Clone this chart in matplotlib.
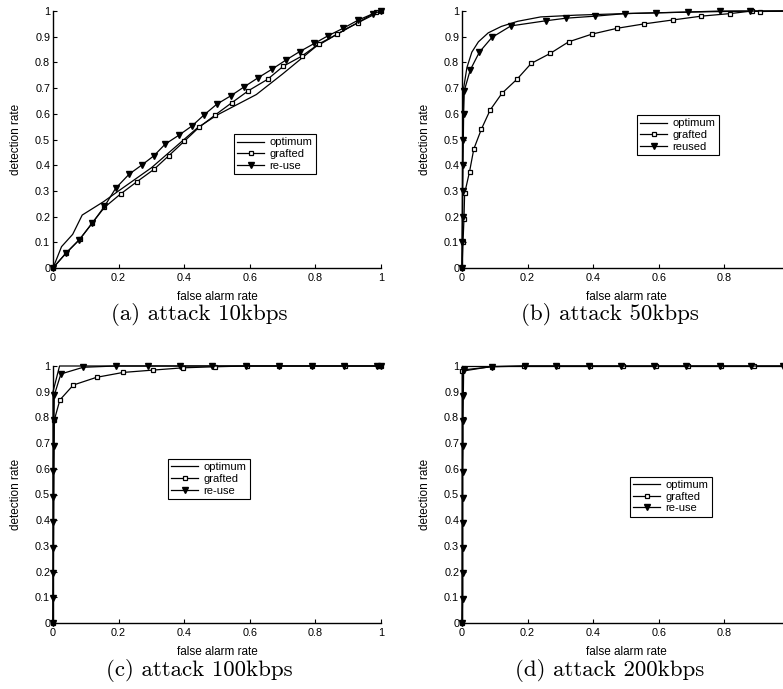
import matplotlib
matplotlib.use('Agg')
import matplotlib.pyplot as plt

plt.rcParams['font.family'] = ['Liberation Sans', 'DejaVu Sans']

# panel (a) attack 10kbps
a_opt_x = [0, 0.026, 0.06, 0.089, 0.154, 0.2, 0.3, 0.44, 0.5, 0.62, 0.7, 0.8, 0.9, 1]
a_opt_y = [0, 0.083, 0.131, 0.206, 0.258, 0.30, 0.39, 0.545, 0.595, 0.675, 0.755, 0.86, 0.935, 1]
a_graft_x = [0, 0.039, 0.082, 0.12, 0.157, 0.206, 0.255, 0.308, 0.353, 0.40, 0.445, 0.494,
             0.545, 0.596, 0.654, 0.702, 0.758, 0.812, 0.867, 0.93, 0.985, 1]
a_graft_y = [0, 0.057, 0.112, 0.176, 0.236, 0.288, 0.335, 0.384, 0.437, 0.493, 0.547, 0.595,
             0.643, 0.69, 0.734, 0.785, 0.824, 0.873, 0.91, 0.955, 0.997, 1]
a_reuse_x = [0, 0.039, 0.08, 0.12, 0.157, 0.191, 0.232, 0.27, 0.308, 0.342, 0.383, 0.424, 0.46,
             0.499, 0.542, 0.583, 0.625, 0.667, 0.71, 0.752, 0.797, 0.839, 0.885, 0.931, 0.977, 1]
a_reuse_y = [0, 0.057, 0.11, 0.175, 0.24, 0.31, 0.365, 0.40, 0.437, 0.482, 0.516, 0.553, 0.595,
             0.637, 0.67, 0.705, 0.74, 0.773, 0.809, 0.842, 0.874, 0.904, 0.933, 0.965, 0.99, 1]

# panel (b) attack 50kbps
b_opt_x = [0, 0.002, 0.005, 0.015, 0.03, 0.05, 0.08, 0.12, 0.17, 0.24, 0.35, 0.5, 0.7, 0.85, 1]
b_opt_y = [0, 0.5, 0.7, 0.78, 0.84, 0.88, 0.915, 0.94, 0.96, 0.977, 0.984, 0.99, 0.996, 0.999, 1]
b_graft_x = [0, 0.003, 0.006, 0.008, 0.023, 0.036, 0.059, 0.086, 0.122, 0.168, 0.211, 0.269,
             0.325, 0.396, 0.474, 0.556, 0.642, 0.73, 0.818, 0.884, 0.91, 1]
b_graft_y = [0, 0.1, 0.19, 0.29, 0.375, 0.463, 0.54, 0.615, 0.68, 0.735, 0.796, 0.835,
             0.88, 0.91, 0.933, 0.95, 0.965, 0.98, 0.99, 1.0, 0.998, 1.0]
b_reuse_x = [0, 0.001, 0.002, 0.002, 0.003, 0.004, 0.005, 0.007, 0.025, 0.053, 0.091, 0.149,
             0.256, 0.317, 0.407, 0.498, 0.592, 0.689, 0.788, 0.879, 1]
b_reuse_y = [0, 0.1, 0.2, 0.3, 0.4, 0.5, 0.6, 0.69, 0.77, 0.84, 0.897, 0.942,
             0.962, 0.972, 0.98, 0.99, 0.993, 0.996, 1.0, 1.0, 1.0]

# panel (c) attack 100kbps
c_opt_x = [0, 0, 0.02, 1]
c_opt_y = [0, 0.9, 1.0, 1.0]
c_graft_x = [0, 0.004, 0.021, 0.062, 0.133, 0.214, 0.304, 0.397, 0.494, 0.59, 0.69, 0.79, 0.89, 0.99, 1]
c_graft_y = [0, 0.79, 0.868, 0.926, 0.956, 0.975, 0.984, 0.993, 0.997, 1, 1, 1, 1, 1, 1]
c_reuse_x = [0, 0.001, 0.001, 0.001, 0.001, 0.001, 0.001, 0.002, 0.003, 0.004, 0.024, 0.092,
             0.191, 0.289, 0.387, 0.486, 0.587, 0.688, 0.789, 0.888, 0.987, 1]
c_reuse_y = [0, 0.096, 0.193, 0.293, 0.394, 0.49, 0.59, 0.689, 0.79, 0.887, 0.969, 0.995,
             1, 1, 1, 1, 1, 1, 1, 1, 1, 1]

# panel (d) attack 200kbps
d_opt_x = [0, 0, 1]
d_opt_y = [0, 1, 1]
d_graft_x = [0, 0.001, 0.09, 0.19, 0.29, 0.39, 0.49, 0.59, 0.69, 0.79, 0.89, 0.99, 1]
d_graft_y = [0, 0.98, 0.998, 1, 1, 1, 1, 1, 1, 1, 1, 1, 1]
d_reuse_x = [0, 0.002, 0.002, 0.002, 0.002, 0.002, 0.002, 0.003, 0.003, 0.004, 0.005, 0.091,
             0.191, 0.288, 0.386, 0.486, 0.586, 0.684, 0.786, 0.882, 0.979, 1]
d_reuse_y = [0, 0.095, 0.195, 0.293, 0.389, 0.488, 0.589, 0.688, 0.787, 0.884, 0.985, 0.997,
             1, 1, 1, 1, 1, 1, 1, 1, 1, 1]

x_ticks = [0, 0.2, 0.4, 0.6, 0.8, 1]
x_labels = ['0', '0.2', '0.4', '0.6', '0.8', '1']
y_ticks = [k / 10 for k in range(11)]
y_labels = ['0'] + ['0.%d' % k for k in range(1, 10)] + ['1']

panels = [
    ((a_opt_x, a_opt_y), (a_graft_x, a_graft_y), (a_reuse_x, a_reuse_y),
     ['optimum', 'grafted', 're-use'], '(a) attack 10kbps'),
    ((b_opt_x, b_opt_y), (b_graft_x, b_graft_y), (b_reuse_x, b_reuse_y),
     ['optimum', 'grafted', 'reused'], '(b) attack 50kbps'),
    ((c_opt_x, c_opt_y), (c_graft_x, c_graft_y), (c_reuse_x, c_reuse_y),
     ['optimum', 'grafted', 're-use'], '(c) attack 100kbps'),
    ((d_opt_x, d_opt_y), (d_graft_x, d_graft_y), (d_reuse_x, d_reuse_y),
     ['optimum', 'grafted', 're-use'], '(d) attack 200kbps'),
]

W, H = 783, 689
fig = plt.figure(figsize=(W / 100, H / 100), dpi=100)

# axes boxes in pixels: left, top (right column runs past the page edge)
ax_pos = [(53, 11), (462, 11), (53, 366), (462, 366)]
ax_w, ax_h = 328, 257
legend_pos = [(0.552, 0.521), (0.534, 0.595), (0.351, 0.638), (0.512, 0.57)]
caption_xy = [(199, 315), (610, 315), (199, 670), (610, 670)]

for i, (opt, graft, reuse, names, caption) in enumerate(panels):
    left, top = ax_pos[i]
    ax = fig.add_axes([left / W, 1 - (top + ax_h) / H, ax_w / W, ax_h / H])
    ax.plot(opt[0], opt[1], color='black', lw=0.9, label=names[0], clip_on=False)
    ax.plot(graft[0], graft[1], color='black', lw=0.9, marker='s', ms=3.5,
            mfc='white', mec='black', mew=0.9, label=names[1], clip_on=False)
    ax.plot(reuse[0], reuse[1], color='black', lw=0.9, marker='v', ms=4,
            mfc='black', mec='black', label=names[2], clip_on=False)

    ax.set_xlim(0, 1)
    ax.set_ylim(0, 1)
    ax.set_xticks(x_ticks)
    # the "1" of the right-hand panels falls off the page in the original
    ax.set_xticklabels(x_labels if i % 2 == 0 else x_labels[:-1] + [''])
    ax.set_yticks(y_ticks)
    ax.set_yticklabels(y_labels)
    ax.tick_params(direction='in', length=3, width=0.8, labelsize=7.8, colors='black')
    ax.tick_params(axis='x', pad=3.5)
    ax.tick_params(axis='y', pad=2)
    for s in ['top', 'right']:
        ax.spines[s].set_visible(False)
    for s in ['left', 'bottom']:
        ax.spines[s].set_linewidth(1.0)

    ax.set_xlabel('false alarm rate', fontsize=8.5)
    ax.set_ylabel('detection rate', fontsize=8.5)
    ax.xaxis.set_label_coords(0.5, -0.09)
    ax.yaxis.set_label_coords(-0.093, 0.5)

    leg = ax.legend(loc='upper left', bbox_to_anchor=legend_pos[i], fontsize=8,
                    frameon=True, fancybox=False, edgecolor='black', framealpha=1,
                    borderpad=0.3, labelspacing=0.15, handlelength=2.4,
                    handletextpad=0.5, borderaxespad=0)
    leg.get_frame().set_linewidth(0.8)

    cx, cy = caption_xy[i]
    fig.text(cx / W, 1 - cy / H, caption, ha='center', va='center',
             fontsize=16.5, family='cmr10')

fig.savefig('out.png', dpi=100)
